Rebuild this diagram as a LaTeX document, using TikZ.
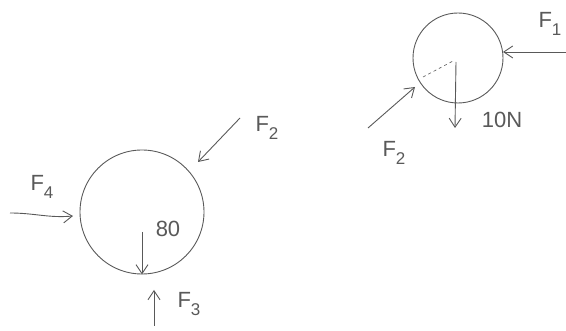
\documentclass[tikz,border=0pt]{standalone}
\usepackage{fontspec}
\setmainfont{Liberation Sans}
\usetikzlibrary{arrows.meta}
\definecolor{pencil}{gray}{0.35}
\newcommand{\FF}[1]{F\raisebox{-0.35em}{\fontsize{17}{18}\selectfont #1}}
\begin{document}
\begin{tikzpicture}[x=1pt,y=-1pt,
  pen/.style={draw=pencil,line width=0.9pt},
  force/.style={pen,-{Straight Barb[length=9pt,width=12pt]}},
  body/.style={pen,circle,inner sep=0pt},
  lbl/.style={text=pencil,font=\fontsize{22}{24}\selectfont,inner sep=0pt}]
\useasboundingbox (0,0) rectangle (566,331);
% left body
\node[body,minimum size=124pt] (A) at (142,212) {};
\coordinate (a2s) at (240,118);
\coordinate (a2e) at (198,162);
\draw[force] (a2s) -- (a2e);
\node[lbl] (lA2) at (267,128) {\FF{2}};
\coordinate (a4s) at (10,213);
\coordinate (a4e) at (73,216);
\draw[force] (a4s) to[out=0,in=185] (a4e);
\node[lbl] (lA4) at (42,187) {\FF{4}};
\coordinate (awg) at (142,232);
\draw[force] (awg) -- (A.south);
\node[lbl] (lA80) at (168,229) {80};
\coordinate (a3s) at (154,326);
\coordinate (a3e) at (154,290);
\draw[force] (a3s) -- (a3e);
\node[lbl] (lA3) at (189,304) {\FF{3}};
% right body
\node[body,minimum size=90pt] (B) at (458,58) {};
\coordinate (b1s) at (570,52);
\coordinate (b1e) at (503,52);
\draw[force] (b1s) -- (b1e);
\node[lbl] (lB1) at (550,24) {\FF{1}};
\coordinate (b2s) at (368,128);
\coordinate (b2e) at (415,87);
\draw[force] (b2s) -- (b2e);
\node[lbl] (lB2) at (394,153) {\FF{2}};
\coordinate (bc) at (453,61);
\coordinate (bd) at (423,77);
\draw[pen,dashed,line width=0.6pt] (bd) -- (bc);
\coordinate (bws) at (456,62);
\coordinate (bwe) at (455,128);
\draw[force] (bws) -- (bwe);
\node[lbl] (lB10) at (502,120) {10N};
\end{tikzpicture}
\end{document}
